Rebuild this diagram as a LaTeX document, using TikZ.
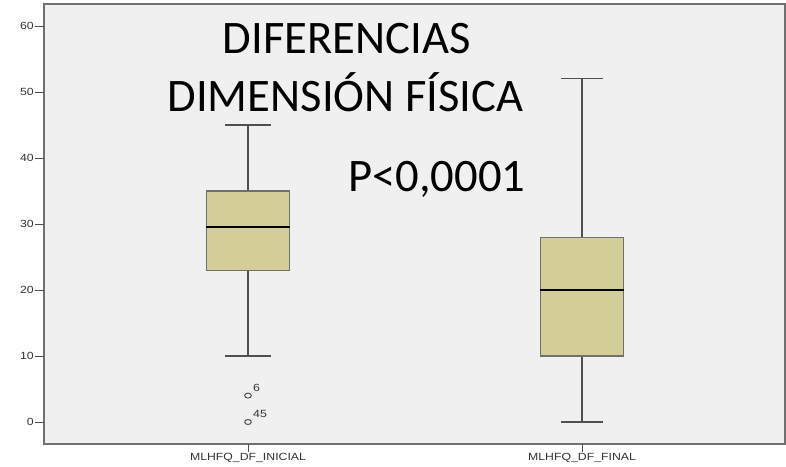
\documentclass[tikz,border=0pt]{standalone}
\usepackage{fontspec}
\setmainfont{Carlito}
\newfontfamily\spssfont{Liberation Sans}
\definecolor{plotbg}{HTML}{F0F0F0}
\definecolor{boxfill}{HTML}{D3CE97}
\definecolor{framegray}{HTML}{707070}
\definecolor{whiskgray}{HTML}{505050}
\tikzset{>=stealth}
\tikzset{
  boxbody/.style={draw=framegray, fill=boxfill, line width=1.3pt, inner sep=0pt, minimum width=83.3pt},
  whisker/.style={draw=whiskgray, line width=1.2pt},
  median/.style={draw=black, line width=1.8pt},
  ticklab/.style={font=\spssfont\fontsize{10.4}{11}\selectfont, text=black!80, inner sep=1pt},
  bigtext/.style={font=\fontsize{46.6}{56}\selectfont, inner sep=0pt},
  outlier/.style={ellipse, draw=whiskgray, line width=1pt, minimum width=6.6pt, minimum height=5pt, inner sep=0pt}
}
\usetikzlibrary{shapes.geometric}
\newcommand{\spsslab}[1]{\scalebox{1.18}[1]{#1}}

\begin{document}
\begin{tikzpicture}[x=1pt, y=6.6pt]
\useasboundingbox (0,-6.667) rectangle (786,63.94);
\fill[white] (0,-6.667) rectangle (786,63.94);
\draw[framegray, fill=plotbg, line width=1.5pt] (44,-3.33) rectangle (785,63.33);
\foreach \v in {0,10,...,60} {
  \draw[whiskgray, line width=0.9pt] (35,\v) -- (44,\v);
  \node[ticklab, anchor=east] (y\v) at (35,\v) {\spsslab{\v}};
}

\node[bigtext, anchor=base] (tit1) at (346.7,55.86) {DIFERENCIAS};
\node[bigtext, anchor=base] (tit2) at (345.5,47.02) {DIMENSIÓN FÍSICA};
\node[bigtext, anchor=base west] (pval) at (348,34.89) {P<0,0001};

\coordinate (inimax) at (248,45);
\coordinate (inimin) at (248,10);
\node[boxbody, minimum height=79.2pt] (ini) at (248,29) {};
\draw[whisker] (ini.north) -- (inimax);
\draw[whisker] (ini.south) -- (inimin);
\draw[whisker] ([xshift=-23pt]inimax) -- ([xshift=23pt]inimax);
\draw[whisker] ([xshift=-23pt]inimin) -- ([xshift=23pt]inimin);
\draw[median] (ini.west |- 0,29.5) -- (ini.east |- 0,29.5);

\coordinate (finmax) at (582,52);
\coordinate (finmin) at (582,0);
\node[boxbody, minimum height=118.8pt] (fin) at (582,19) {};
\draw[whisker] (fin.north) -- (finmax);
\draw[whisker] (fin.south) -- (finmin);
\draw[whisker] ([xshift=-21pt]finmax) -- ([xshift=21pt]finmax);
\draw[whisker] ([xshift=-21pt]finmin) -- ([xshift=21pt]finmin);
\draw[median] (fin.west |- 0,20) -- (fin.east |- 0,20);

\node[outlier] (out6) at (248,4) {};
\node[outlier] (out45) at (248,0) {};
\node[ticklab, anchor=south west, inner sep=0pt] (lab6) at ([xshift=5pt, yshift=1pt]out6.north) {\spsslab{6}};
\node[ticklab, anchor=south west, inner sep=0pt] (lab45) at ([xshift=5pt, yshift=1pt]out45.north) {\spsslab{45}};

\node[ticklab] (labini) at (248,-5.45) {\spsslab{MLHFQ\_DF\_INICIAL}};
\node[ticklab] (labfin) at (582,-5.45) {\spsslab{MLHFQ\_DF\_FINAL}};
\draw[whiskgray, line width=0.9pt] (248,-3.33) -- (labini.north);
\draw[whiskgray, line width=0.9pt] (582,-3.33) -- (labfin.north);
\end{tikzpicture}
\end{document}
